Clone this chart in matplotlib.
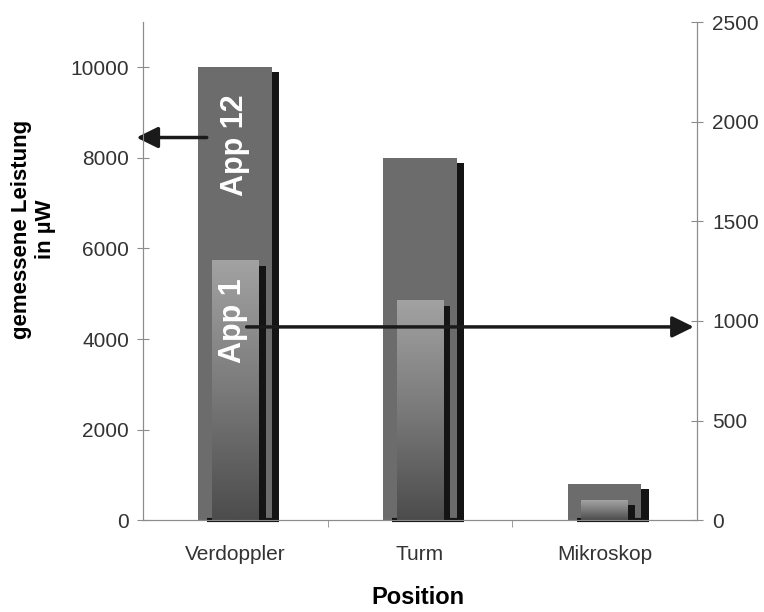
import numpy as np
import matplotlib.pyplot as plt
from matplotlib.colors import LinearSegmentedColormap

plt.rcParams['font.family'] = ['Liberation Sans', 'DejaVu Sans']

positions = ['Verdoppler', 'Turm', 'Mikroskop']
app12 = [10000, 8000, 800]   # left axis, µW
app1 = [1300, 1100, 100]     # right axis, µW

x = np.arange(len(positions))
w12, w1 = 0.40, 0.25   # bar widths
sh = 0.04              # shadow width

fig = plt.figure(figsize=(7.64, 6.12), dpi=100)
ax = fig.add_axes([0.187, 0.150, 0.725, 0.814])
ax2 = ax.twinx()

ax.set_ylim(0, 11000)
ax2.set_ylim(0, 2500)

# App 12: flat dark grey bars with a black drop shadow
ax.bar(x + w12 / 2 + sh / 2, [v - 110 for v in app12], width=sh,
       color='#141414', zorder=1)
ax.bar(x, app12, width=w12, color='#6c6c6c', zorder=2)
for xi in x:
    ax.hlines(0, xi - w12 / 2 + 0.05, xi + w12 / 2 + sh, color='#141414',
              lw=3, zorder=3, clip_on=False)

# App 1: gradient bars on the right axis
cmap = LinearSegmentedColormap.from_list('g', ['#4c4c4c', '#7a7a7a', '#a2a2a2'])
grad = np.linspace(0, 1, 256).reshape(-1, 1)
ax2.bar(x + w1 / 2 + sh / 2, [v - 25 for v in app1], width=sh,
        color='#141414', zorder=1)
for xi, v in zip(x, app1):
    ax2.imshow(grad, extent=(xi - w1 / 2, xi + w1 / 2, 0, v), aspect='auto',
               cmap=cmap, origin='lower', zorder=2)

ax.set_xlim(-0.5, 2.5)
ax2.set_ylim(0, 2500)

# labels inside the bars
ax.text(0.0, 8280, 'App 12', rotation=90, ha='center', va='center',
        color='white', fontsize=22, fontweight='bold', zorder=5)
ax2.text(-0.012, 1000, 'App 1', rotation=90, ha='center', va='center',
         color='white', fontsize=22, fontweight='bold', zorder=5)

# arrows pointing to the matching axis
arrow = dict(arrowstyle='-|>,head_length=0.65,head_width=0.32',
             mutation_scale=20, color='#1a1a1a', lw=2.5, shrinkA=0, shrinkB=0)
ax.annotate('', xy=(-0.535, 8450), xytext=(-0.154, 8450),
            arrowprops=arrow, annotation_clip=False, zorder=6)
ax2.annotate('', xy=(2.484, 970), xytext=(0.062, 970),
             arrowprops=arrow, annotation_clip=False, zorder=6)

# axes styling
for a in (ax, ax2):
    a.spines['top'].set_visible(False)
    for s in ('left', 'right', 'bottom'):
        a.spines[s].set_color('#8c8c8c')

ax.set_xticks(x, positions)
ax.set_xticks([0.5, 1.5], minor=True)
ax.tick_params(axis='x', which='major', length=0, pad=18, labelsize=15,
               labelcolor='#333333')
ax.tick_params(axis='x', which='minor', length=5, color='#8c8c8c')

ax.set_yticks(range(0, 10001, 2000))
ax.tick_params(axis='y', direction='inout', length=8, color='#8c8c8c',
               labelsize=15, labelcolor='#333333', pad=6)
ax2.set_yticks(range(0, 2501, 500))
ax2.tick_params(axis='y', direction='inout', length=8, color='#8c8c8c',
                labelsize=15, labelcolor='#333333', pad=7)

ax.set_ylabel('gemessene Leistung\nin µW', fontsize=16, fontweight='bold')
ax.yaxis.set_label_coords(-0.157, 0.584)
ax.set_xlabel('Position', fontsize=17, fontweight='bold', va='center')
ax.xaxis.set_label_coords(0.496, -0.155)

fig.savefig('out.png', dpi=100)
